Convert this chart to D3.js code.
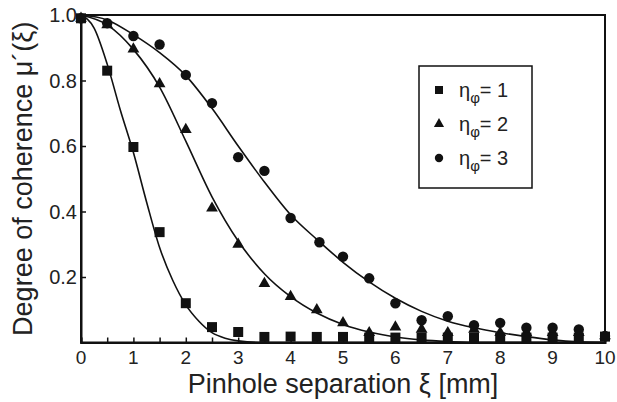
<!DOCTYPE html>
<html>
<head>
<meta charset="utf-8">
<script src="https://cdn.jsdelivr.net/npm/d3@7"></script>
<style>
  body { margin: 0; background: #fff; }
  text { font-family: "Liberation Sans", Arial, sans-serif; fill: #222; }
</style>
</head>
<body>
<script>
// separations (mm) where the points were measured
var xs = [0, 0.5, 1, 1.5, 2, 2.5, 3, 3.5, 4, 4.5, 5, 5.5, 6, 6.5, 7, 7.5, 8, 8.5, 9, 9.5, 10];
var xsCircle = [0, 0.5, 1, 1.5, 2, 2.5, 3, 3.5, 4, 4.55, 5, 5.5, 6, 6.5, 7, 7.5, 8, 8.5, 9, 9.5, 10];

// measured points
var eta1 = [0.99, 0.83, 0.597, 0.337, 0.12, 0.047, 0.032, 0.017, 0.018, 0.017, 0.017, 0.015, 0.015, 0.015, 0.015, 0.015, 0.015, 0.015, 0.015, 0.015, 0.018];
var eta2 = [0.99, 0.97, 0.896, 0.79, 0.65, 0.41, 0.30, 0.18, 0.14, 0.10, 0.06, 0.03, 0.047, 0.04, 0.03, 0.04, 0.03, 0.03, 0.03, 0.03, 0.02];
var eta3 = [0.99, 0.975, 0.936, 0.91, 0.817, 0.731, 0.566, 0.524, 0.38, 0.306, 0.262, 0.196, 0.12, 0.068, 0.08, 0.053, 0.06, 0.045, 0.045, 0.04, 0.02];

// fitted curves
var fit1x = [0, 0.25, 0.5, 0.75, 1, 1.25, 1.5, 1.75, 2, 2.25, 2.5, 2.75, 3, 3.5, 10];
var fit1y = [1.0, 0.96, 0.85, 0.71, 0.58, 0.43, 0.29, 0.19, 0.115, 0.065, 0.03, 0.013, 0.005, 0.0, 0.0];
var fit2x = [0, 0.5, 1, 1.5, 2, 2.5, 3, 3.5, 4, 4.5, 5, 5.5, 6, 6.5, 7, 7.5, 10];
var fit2y = [1.0, 0.97, 0.895, 0.78, 0.615, 0.445, 0.31, 0.21, 0.14, 0.09, 0.055, 0.032, 0.017, 0.008, 0.003, 0.0, 0.0];
var fit3x = [0, 0.5, 1, 1.5, 2, 2.5, 3, 3.5, 4, 4.5, 5, 5.5, 6, 6.5, 7, 7.5, 8, 8.5, 9, 9.5, 10];
var fit3y = [1.0, 0.985, 0.94, 0.885, 0.815, 0.715, 0.6, 0.49, 0.39, 0.315, 0.245, 0.185, 0.135, 0.095, 0.065, 0.045, 0.03, 0.018, 0.008, 0.002, 0.0];

var xTicks = [0, 1, 2, 3, 4, 5, 6, 7, 8, 9, 10];
var yTicks = [0.2, 0.4, 0.6, 0.8, 1.0];
var legendLabels = ["1", "2", "3"];

var width = 617, height = 402;
var margin = { top: 15, right: 12, bottom: 60, left: 81 };

var svg = d3.select("body").append("svg")
    .attr("width", width)
    .attr("height", height);

var x = d3.scaleLinear().domain([0, 10]).range([margin.left, width - margin.right]);
var y = d3.scaleLinear().domain([0, 1]).range([height - margin.bottom + 0.5, margin.top]);

// frame
svg.append("rect")
    .attr("x", x(0)).attr("y", y(1))
    .attr("width", x(10) - x(0)).attr("height", y(0) - y(1))
    .attr("fill", "none").attr("stroke", "#111").attr("stroke-width", 2);

// x axis: ticks every 0.5 pointing inward
var xAxis = d3.axisBottom(x)
    .tickValues(d3.range(0, 10.01, 0.5))
    .tickSize(-5)
    .tickFormat("");
var gx = svg.append("g").attr("transform", "translate(0," + y(0) + ")").call(xAxis);
gx.select(".domain").attr("stroke", "#111").attr("stroke-width", 2);
gx.selectAll(".tick line").attr("stroke", "#111").attr("stroke-width", 1.5);

svg.append("g").selectAll("text")
    .data(xTicks)
    .enter().append("text")
    .attr("x", (d) => x(d))
    .attr("y", y(0) + 21)
    .attr("text-anchor", "middle")
    .style("font-size", "19px")
    .text((d) => d);

var yAxis = d3.axisLeft(y)
    .tickValues(yTicks)
    .tickSize(-5)
    .tickFormat("");
var gy = svg.append("g").attr("transform", "translate(" + x(0) + ",0)").call(yAxis);
gy.select(".domain").attr("stroke", "#111").attr("stroke-width", 2);
gy.selectAll(".tick line").attr("stroke", "#111").attr("stroke-width", 1.5);

svg.append("g").selectAll("text")
    .data(yTicks)
    .enter().append("text")
    .attr("x", x(0) - 4)
    .attr("y", (d) => y(d) + 7)
    .attr("text-anchor", "end")
    .style("font-size", "20px")
    .text((d) => d.toFixed(1));

// axis titles
svg.append("text")
    .attr("x", (x(0) + x(10)) / 2)
    .attr("y", 393)
    .attr("text-anchor", "middle")
    .style("font-size", "27px")
    .text("Pinhole separation ξ [mm]");

svg.append("text")
    .attr("transform", "translate(32," + (y(0) + y(1)) / 2 + ") rotate(-90)")
    .attr("text-anchor", "middle")
    .style("font-size", "27px")
    .text("Degree of coherence μ´(ξ)");

// fitted curves
var line = d3.line()
    .x((d) => x(d[0]))
    .y((d) => y(d[1]))
    .curve(d3.curveMonotoneX);

[[fit1x, fit1y], [fit2x, fit2y], [fit3x, fit3y]].forEach(function (f) {
    svg.append("path")
        .datum(d3.zip(f[0], f[1]))
        .attr("d", line)
        .attr("fill", "none")
        .attr("stroke", "#111")
        .attr("stroke-width", 1.6);
});

// points
var series = [
    { xs: xs, ys: eta1, sym: d3.symbolSquare, size: 100, lsize: 64 },
    { xs: xs, ys: eta2, sym: d3.symbolTriangle, size: 60, lsize: 45 },
    { xs: xsCircle, ys: eta3, sym: d3.symbolCircle, size: 85, lsize: 55 }
];

series.forEach(function (s) {
    svg.append("g").selectAll("path")
        .data(d3.zip(s.xs, s.ys))
        .enter().append("path")
        .attr("d", d3.symbol().type(s.sym).size(s.size))
        .attr("transform", (d) => "translate(" + x(d[0]) + "," + y(d[1]) + ")")
        .attr("fill", "#111");
});

// legend
var lg = svg.append("g").attr("transform", "translate(419,66)");
lg.append("rect")
    .attr("width", 113).attr("height", 122)
    .attr("fill", "#fff").attr("stroke", "#111").attr("stroke-width", 1.5);

series.forEach(function (s, i) {
    var row = lg.append("g").attr("transform", "translate(0," + (24 + i * 34) + ")");
    row.append("path")
        .attr("d", d3.symbol().type(s.sym).size(s.lsize))
        .attr("transform", "translate(20,0)")
        .attr("fill", "#111");
    var t = row.append("text")
        .attr("x", 40)
        .attr("y", 7)
        .style("font-size", "20px");
    t.append("tspan").text("η");
    t.append("tspan").attr("dy", 6).style("font-size", "15px").text("φ");
    t.append("tspan").attr("dy", -6).text("= " + legendLabels[i]);
});
</script>
</body>
</html>
